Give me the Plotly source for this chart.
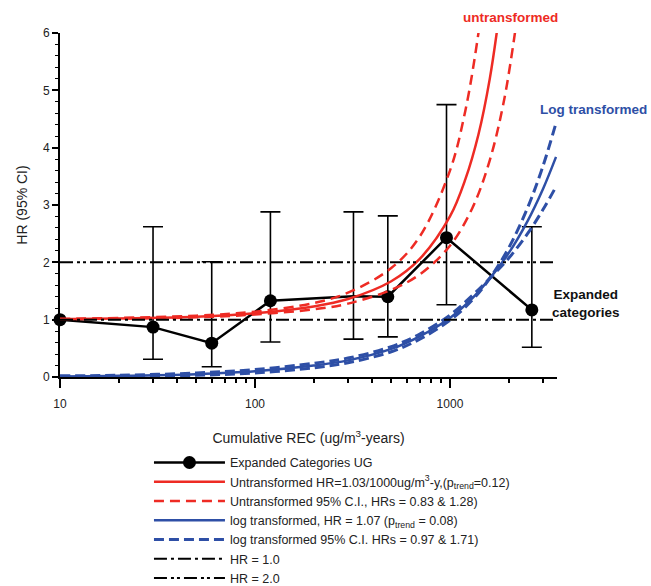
import plotly.graph_objects as go

# ---------------- data ----------------
rec_x = [10, 30, 60, 120, 320, 480, 960, 2630]
hr = [1.0, 0.87, 0.59, 1.33, 1.41, 1.40, 2.43, 1.17]
ci_low = [None, 0.31, 0.18, 0.61, 0.66, 0.70, 1.26, 0.52]
ci_high = [None, 2.62, 2.01, 2.88, 2.88, 2.81, 4.75, 2.62]

red_solid_x = [10, 50, 100, 200, 300, 500, 700, 1000, 1200, 1400, 1600, 1800]
red_solid_y = [1.01, 1.05, 1.11, 1.23, 1.36, 1.67, 2.06, 2.80, 3.45, 4.23, 5.20, 6.39]
red_upper_x = [10, 50, 100, 200, 300, 500, 700, 1000, 1200, 1400, 1500]
red_upper_y = [1.01, 1.07, 1.14, 1.29, 1.47, 1.90, 2.45, 3.60, 4.65, 6.00, 6.82]
red_lower_x = [10, 50, 100, 200, 300, 500, 700, 1000, 1300, 1600, 1900, 2200]
red_lower_y = [1.01, 1.04, 1.09, 1.18, 1.28, 1.52, 1.79, 2.29, 2.94, 3.78, 4.85, 6.22]

blue_x = [10, 20, 50, 100, 200, 300, 500, 700, 1000, 1300, 1600, 2000, 2500, 3000, 3500]
blue_solid_y = [0.01, 0.02, 0.05, 0.10, 0.20, 0.29, 0.49, 0.71, 1.03, 1.37, 1.72, 2.16, 2.72, 3.28, 3.84]
blue_upper_y = [0.005, 0.01, 0.03, 0.07, 0.16, 0.25, 0.44, 0.66, 0.99, 1.34, 1.72, 2.25, 2.95, 3.68, 4.43]
blue_lower_y = [0.02, 0.03, 0.07, 0.13, 0.24, 0.33, 0.53, 0.75, 1.08, 1.42, 1.72, 2.07, 2.50, 2.92, 3.32]

ref_x = [10, 3500]
ref1_y = [1.0, 1.0]
ref2_y = [2.0, 2.0]

names = [
    "Expanded Categories UG",
    "Untransformed HR=1.03/1000ug/m<sup>3</sup>-y,(p<sub>trend</sub>=0.12)",
    "Untransformed 95% C.I., HRs = 0.83 & 1.28)",
    "log transformed, HR = 1.07 (p<sub>trend</sub> = 0.08)",
    "log transformed 95% C.I. HRs = 0.97 & 1.71)",
    "HR = 1.0",
    "HR = 2.0",
]

x_major = [10, 100, 1000]
x_minor = [20, 30, 40, 50, 60, 70, 80, 90, 200, 300, 400, 500, 600, 700, 800, 900, 2000, 3000]

# ---------------- style ----------------
RED = "#ee2b24"
BLUE = "#2e4fa6"
FONT = "Liberation Sans, Arial, Helvetica, sans-serif"

err_plus = [None if h is None else h - y for h, y in zip(ci_high, hr)]
err_minus = [None if l is None else y - l for l, y in zip(ci_low, hr)]
# the category at 320 shows no filled marker in the original
shown_markers = [i for i, xv in enumerate(rec_x) if xv != 320]

fig = go.Figure()

fig.add_trace(go.Scatter(
    x=rec_x, y=hr, name=names[0], mode="lines+markers",
    line=dict(color="black", width=2.5),
    marker=dict(color="black", size=13),
    selectedpoints=shown_markers,
    selected=dict(marker=dict(opacity=1)),
    unselected=dict(marker=dict(opacity=0)),
    error_y=dict(type="data", array=err_plus, arrayminus=err_minus,
                 color="black", thickness=1.6, width=10),
    cliponaxis=False,
))

fig.add_trace(go.Scatter(
    x=red_solid_x, y=red_solid_y, name=names[1], mode="lines",
    line=dict(color=RED, width=2.5, shape="spline"),
))
fig.add_trace(go.Scatter(
    x=red_upper_x, y=red_upper_y, name=names[2], mode="lines",
    line=dict(color=RED, width=2.5, dash="10px,6px", shape="spline"),
))
fig.add_trace(go.Scatter(
    x=red_lower_x, y=red_lower_y, name=names[2], mode="lines", showlegend=False,
    line=dict(color=RED, width=2.5, dash="10px,6px", shape="spline"),
))

fig.add_trace(go.Scatter(
    x=blue_x, y=blue_solid_y, name=names[3], mode="lines",
    line=dict(color=BLUE, width=2.5, shape="spline"),
))
fig.add_trace(go.Scatter(
    x=blue_x, y=blue_upper_y, name=names[4], mode="lines",
    line=dict(color=BLUE, width=3, dash="10px,5px", shape="spline"),
))
fig.add_trace(go.Scatter(
    x=blue_x, y=blue_lower_y, name=names[4], mode="lines", showlegend=False,
    line=dict(color=BLUE, width=3, dash="10px,5px", shape="spline"),
))

fig.add_trace(go.Scatter(
    x=ref_x, y=ref1_y, name=names[5], mode="lines",
    line=dict(color="black", width=2, dash="13px,4px,3px,4px"),
))
fig.add_trace(go.Scatter(
    x=ref_x, y=ref2_y, name=names[6], mode="lines",
    line=dict(color="black", width=2, dash="13px,4px,3px,3px,3px,4px"),
))

fig.update_layout(
    width=651, height=586,
    margin=dict(l=60, r=94, t=33, b=209, autoexpand=False),
    plot_bgcolor="white", paper_bgcolor="white",
    font=dict(family=FONT, size=12, color="#222"),
    showlegend=True,
    legend=dict(
        x=0.179, y=-0.206, xanchor="left", yanchor="top",
        bgcolor="rgba(0,0,0,0)", font=dict(size=12.5, color="#222"),
        itemwidth=71, tracegroupgap=0,
    ),
    xaxis=dict(
        type="log", range=[1, 3.549],
        tickvals=x_major, ticktext=[str(v) for v in x_major],
        ticks="outside", ticklen=9, tickwidth=2, tickcolor="black",
        showline=True, linewidth=2, linecolor="black",
        showgrid=False, zeroline=False, ticklabelstandoff=6,
        tickfont=dict(size=12, color="#222"),
        minor=dict(tickvals=x_minor, ticks="outside", ticklen=4, tickwidth=1.5,
                   tickcolor="black", showgrid=False),
        title=dict(text="Cumulative REC (ug/m<sup>3</sup>-years)",
                   font=dict(size=14, color="#222"), standoff=23),
    ),
    yaxis=dict(
        range=[0, 6], dtick=1, tick0=0,
        ticks="outside", ticklen=6, tickwidth=2, tickcolor="black",
        showline=True, linewidth=2, linecolor="black",
        showgrid=False, zeroline=False,
        tickfont=dict(size=12, color="#222"),
        minor=dict(dtick=0.2, ticks="outside", ticklen=3, tickwidth=1,
                   tickcolor="black", showgrid=False),
        title=dict(text="HR (95% CI)", font=dict(size=14, color="#222"), standoff=12),
    ),
    annotations=[
        dict(text="<b>untransformed</b>", x=0.907, y=1.044, xref="paper", yref="paper",
             showarrow=False, font=dict(size=13.5, color=RED), xanchor="center", yanchor="middle"),
        dict(text="<b>Log transformed</b>", x=0.962, y=0.779, xref="paper", yref="paper",
             showarrow=False, font=dict(size=13.5, color=BLUE), xanchor="left", yanchor="middle"),
        dict(text="<b>Expanded<br>categories</b>", x=1.058, y=0.214, xref="paper", yref="paper",
             showarrow=False, font=dict(size=13.5, color="#111"), xanchor="center", yanchor="middle"),
    ],
)

fig.write_html(
    "out.html",
    config={"displayModeBar": False},
    post_script="document.body.style.margin='0';document.body.style.padding='0';",
)
